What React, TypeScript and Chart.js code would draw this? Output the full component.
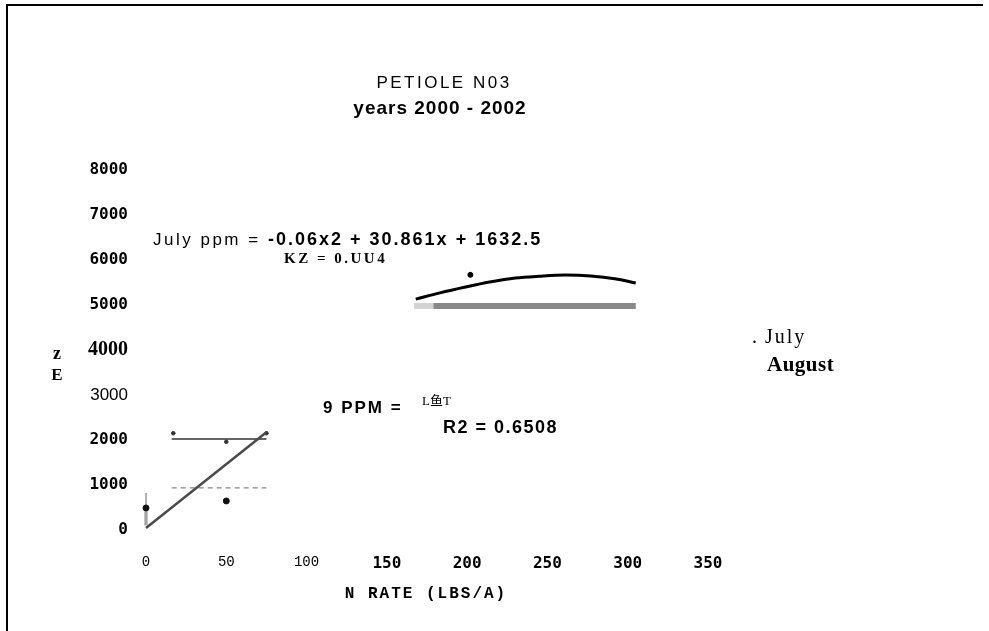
import React, { useEffect, useRef } from "react";
import { Chart, registerables } from "chart.js";

Chart.register(...registerables);

// ---- data ----
const xTickValues = [0, 50, 100, 150, 200, 250, 300, 350];
const yTickValues = [0, 1000, 2000, 3000, 4000, 5000, 6000, 7000, 8000];

const julyCurveX = [168, 183, 199, 214, 230, 245, 261, 277, 292, 305];
const julyCurveY = [5130, 5270, 5400, 5510, 5600, 5640, 5665, 5645, 5585, 5490];
const julyPointX = [202];
const julyPointY = [5670];

const augustBarX = [179, 305];
const augustBarY = [4980, 4980];
const augustFadeX = [167, 179];
const augustFadeY = [4980, 4980];

const lowDiagX = [0, 75];
const lowDiagY = [45, 2170];
const lowSolidX = [16, 75];
const lowSolidY = [2020, 2020];
const lowDashX = [16, 75];
const lowDashY = [935, 935];
const lowDotsX = [0, 50];
const lowDotsY = [490, 645];
const lowStemX = [0, 0];
const lowStemY = [110, 820];
const lowSmudgeX = [0, 0];
const lowSmudgeY = [100, 440];
const lowHookX = [17, 50, 75];
const lowHookY = [2150, 1960, 2150];

// ---- text layout ----
const SANS = '"Liberation Sans", Arial, sans-serif';
const SERIF = '"Liberation Serif", "Times New Roman", serif';
const MONO_B = '"DejaVu Sans Mono", monospace';
const LABELS = [
  { text: "PETIOLE N03", x: 444, y: 83, font: `17px ${SANS}`, ls: "2.5px", align: "center" },
  { text: "years 2000 - 2002", x: 440, y: 109, font: `bold 19px ${SANS}`, ls: "1px", align: "center" },
  { text: "July ppm =", x: 153, y: 240, font: `17px ${SANS}`, ls: "2.5px", align: "left" },
  { text: "-0.06x2 + 30.861x + 1632.5", x: 268, y: 240, font: `bold 18px ${SANS}`, ls: "2px", align: "left" },
  { text: "KZ = 0.UU4", x: 284, y: 259, font: `bold 15px ${SERIF}`, ls: "2.5px", align: "left" },
  { text: "9 PPM =", x: 323, y: 408, font: `bold 17px ${SANS}`, ls: "2px", align: "left" },
  { text: "L\u9c7cT", x: 422, y: 402, font: `13px ${SERIF}, "Noto Sans CJK SC"`, ls: "0px", align: "left" },
  { text: "R2 = 0.6508", x: 443, y: 428, font: `bold 18px ${SANS}`, ls: "1.5px", align: "left" },
  { text: ".", x: 752, y: 338, font: `20px ${SERIF}`, ls: "0px", align: "left" },
  { text: "July", x: 765, y: 338, font: `20px ${SERIF}`, ls: "2px", align: "left" },
  { text: "August", x: 767, y: 366, font: `bold 21px ${SERIF}`, ls: "0.5px", align: "left" },
  { text: "z", x: 57, y: 354, font: `bold 18px ${SERIF}`, ls: "0px", align: "center" },
  { text: "E", x: 57, y: 376, font: `bold 17px ${SERIF}`, ls: "0px", align: "center" },
  { text: "N RATE (LBS/A)", x: 426, y: 594, font: `bold 16px "Liberation Mono", monospace`, ls: "2px", align: "center" },
];

const textPlugin = {
  id: "textLabels",
  afterDraw(chart: any) {
    const c = chart.ctx as CanvasRenderingContext2D;
    c.save();
    c.fillStyle = "#000";
    c.textBaseline = "middle";
    for (const t of LABELS) {
      c.font = t.font;
      (c as any).letterSpacing = t.ls;
      c.textAlign = t.align as CanvasTextAlign;
      c.fillText(t.text, t.x, t.y);
    }
    c.restore();
  },
};

const pts = (xs: number[], ys: number[]) => xs.map((x, i) => ({ x, y: ys[i] }));

export default function App() {
  const ref = useRef<HTMLCanvasElement | null>(null);
  useEffect(() => {
    if (!ref.current) return;
    const line = (data: any, color: string, width: number, extra: any = {}) => ({
      data,
      showLine: true,
      borderColor: color,
      borderWidth: width,
      pointRadius: 0,
      fill: false,
      ...extra,
    });
    const chart = new Chart(ref.current, {
      type: "scatter",
      data: {
        datasets: [
          line(pts(julyCurveX, julyCurveY), "#000", 3, { tension: 0.4, cubicInterpolationMode: "monotone" }),
          { data: pts(julyPointX, julyPointY), pointRadius: 2.5, backgroundColor: "#000", borderColor: "#000" },
          line(pts(augustBarX, augustBarY), "#888", 6),
          line(pts(augustFadeX, augustFadeY), "#d2d2d2", 6),
          line(pts(lowDiagX, lowDiagY), "#4a4a4a", 2.5),
          line(pts(lowSolidX, lowSolidY), "#333", 1.5),
          line(pts(lowDashX, lowDashY), "#888", 1.2, { borderDash: [5, 4] }),
          { data: pts(lowDotsX, lowDotsY), pointRadius: 3, backgroundColor: "#111", borderColor: "#111" },
          line(pts(lowStemX, lowStemY), "#999", 1.5),
          line(pts(lowSmudgeX, lowSmudgeY), "#c4c4c4", 4),
          { data: pts(lowHookX, lowHookY), pointRadius: 1.8, backgroundColor: "#333", borderColor: "#333" },
        ] as any,
      },
      options: {
        animation: false,
        responsive: false,
        clip: false as any,
        layout: { padding: { left: 70, right: 281, top: 170, bottom: 61 } },
        plugins: {
          legend: { display: false },
          tooltip: { enabled: false },
          title: { display: false },
        },
        scales: {
          x: {
            type: "linear",
            min: 0,
            max: 350,
            grid: { display: false, drawTicks: false },
            border: { display: false },
            afterFit: (s: any) => {
              s.height = 40;
            },
            afterBuildTicks: (s: any) => {
              s.ticks = xTickValues.map((v) => ({ value: v }));
            },
            ticks: {
              color: "#000",
              padding: 24,
              autoSkip: false,
              maxRotation: 0,
              callback: (v: any) => String(v),
              font: (ctx: any) =>
                ctx.tick && ctx.tick.value <= 100
                  ? { family: '"Liberation Mono", monospace', size: 14, weight: "normal" }
                  : { family: MONO_B, size: 16, weight: "bold" },
            },
          },
          y: {
            type: "linear",
            min: 0,
            max: 8000,
            grid: { display: false, drawTicks: false },
            border: { display: false },
            afterFit: (s: any) => {
              s.width = 76;
            },
            afterBuildTicks: (s: any) => {
              s.ticks = yTickValues.map((v) => ({ value: v }));
            },
            ticks: {
              color: "#000",
              padding: 18,
              autoSkip: false,
              callback: (v: any) => String(v),
              font: (ctx: any) => {
                const v = ctx.tick ? ctx.tick.value : 0;
                if (v === 4000) return { family: SERIF, size: 20, weight: "bold" };
                if (v === 3000) return { family: SANS, size: 17, weight: "normal" };
                return { family: MONO_B, size: 16, weight: "bold" };
              },
            },
          },
        },
      } as any,
      plugins: [textPlugin],
    });
    return () => chart.destroy();
  }, []);

  return (
    <div style={{ position: "absolute", left: 0, top: 0, width: 989, height: 631, background: "#fff", overflow: "hidden" }}>
      <div
        style={{
          position: "absolute",
          left: 6,
          top: 4,
          width: 975,
          height: 640,
          borderTop: "2px solid #000",
          borderLeft: "2px solid #000",
        }}
      />
      <canvas ref={ref} width={989} height={631} style={{ position: "absolute", left: 0, top: 0, width: 989, height: 631 }} />
    </div>
  );
}
